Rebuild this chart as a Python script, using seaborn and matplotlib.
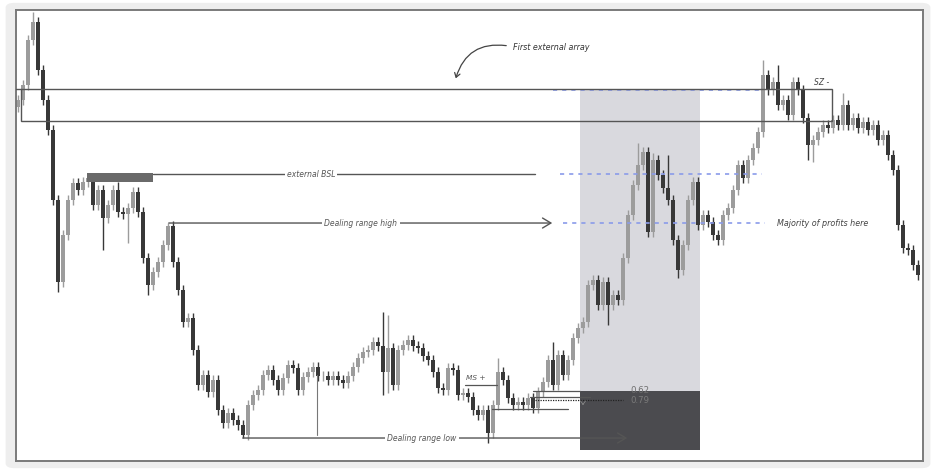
import numpy as np
import pandas as pd
import matplotlib
matplotlib.use("Agg")
import matplotlib.pyplot as plt
import seaborn as sns
from matplotlib.patches import Rectangle, FancyBboxPatch, FancyArrowPatch

# closing prices, one candle per step
closes = [
    371, 386, 431, 449, 401, 371, 341, 271, 189, 236,
    271, 288, 281, 289, 293, 266, 281, 253, 266, 281,
    259, 257, 263, 279, 259, 213, 186, 199, 209, 226,
    245, 209, 181, 149, 153, 121, 86, 96, 79, 91,
    61, 48, 58, 51, 46, 36, 66, 76, 81, 96,
    101, 91, 81, 93, 106, 103, 81, 94, 99, 104,
    95, 95, 91, 95, 91, 88, 95, 104, 113, 119,
    121, 129, 125, 99, 123, 86, 121, 126, 131, 125,
    123, 115, 111, 99, 83, 81, 103, 101, 76, 78,
    74, 61, 56, 61, 38, 66, 99, 91, 73, 66,
    69, 66, 73, 63, 79, 89, 111, 86, 116, 96,
    111, 133, 143, 149, 186, 191, 166, 189, 166, 176,
    171, 213, 256, 286, 306, 319, 239, 311, 296, 283,
    271, 231, 201, 226, 271, 289, 246, 256, 249, 236,
    231, 256, 263, 281, 306, 293, 311, 323, 339, 396,
    381, 389, 366, 371, 356, 389, 381, 353, 326, 331,
    339, 346, 343, 351, 346, 366, 346, 353, 343, 349,
    341, 346, 331, 336, 316, 301, 246, 223, 221, 206,
    196,
]
first_open = 364

# notable wick extremes (candle index -> price)
spike_high = {3: 459, 14: 298, 20: 289, 30: 248, 73: 159, 74: 156,
              96: 113, 107: 129, 124: 328, 127: 318, 130: 316,
              149: 411, 152: 406, 165: 378}
spike_low = {8: 179, 17: 221, 22: 228, 26: 176, 45: 33, 73: 76, 74: 78,
             94: 28, 118: 146, 132: 193, 158: 311, 159: 309}
wick = 5

# annotation levels
array_top, array_bottom = 382, 350
bsl_level = 297
range_high = 248
range_low = 33
zone_top, fib_level, zone_bottom = 382, 80, 21
blue_levels = [381, 297, 248]
fib_labels = ["0.62", "0.79"]

idx = np.arange(len(closes))
opens = [first_open] + closes[:-1]
df = pd.DataFrame({"i": idx, "open": opens, "close": closes})
df["high"] = [spike_high.get(i, max(o, c) + wick) for i, o, c in zip(idx, opens, closes)]
df["low"] = [spike_low.get(i, min(o, c) - wick) for i, o, c in zip(idx, opens, closes)]
df["up"] = df["close"] >= df["open"]

sns.set_theme(style="white")
plt.rcParams["font.family"] = ["DejaVu Sans"]

fig = plt.figure(figsize=(9.36, 4.71), dpi=100)
fig.patch.set_facecolor("white")
frame = FancyBboxPatch((0.006, 0.006), 0.988, 0.988, boxstyle="round,pad=0,rounding_size=0.01",
                       transform=fig.transFigure, facecolor="#eeeeee", edgecolor="none", zorder=-5)
fig.add_artist(frame)
ax = fig.add_axes([0.0171, 0.0212, 0.969, 0.9575])
ax.set_zorder(1)
ax.set_facecolor("white")
ax.set_xlim(-0.4, 181)
ax.set_ylim(10, 461)
ax.set_xticks([])
ax.set_yticks([])
for s in ax.spines.values():
    s.set_color("#7a7a7a")
    s.set_linewidth(1.4)

line_c = "#555555"
text_c = "#555555"

# premium / discount zone
ax.add_patch(Rectangle((112.4, fib_level), 24, zone_top - fib_level, facecolor="#d9d9de", edgecolor="none", zorder=0))
ax.add_patch(Rectangle((112.4, zone_bottom), 24, fib_level - zone_bottom, facecolor="#4b4b4f", edgecolor="none", zorder=3))

# candles
cols = np.where(df["up"], "#9c9c9c", "#383838")
ax.vlines(df["i"], df["low"], df["high"], colors=cols, lw=1.0, zorder=2)
ax.bar(df["i"], df["close"] - df["open"], bottom=df["open"], width=0.75, color=cols, linewidth=0, zorder=2)

# first external array box
ax.add_patch(Rectangle((0.6, array_bottom), 162.2, array_top - array_bottom, fill=False, edgecolor=line_c, lw=1.0, zorder=4))
ax.plot([-0.4, 0.6], [array_top, array_top], color=line_c, lw=1.0, zorder=4)
ax.text(160.8, 389, "SZ -", fontsize=5.5, style="italic", color="#444444", ha="center", va="center")
ax.text(99, 424, "First external array", fontsize=5.8, style="italic", color="#333333", ha="left", va="center")
ax.add_patch(FancyArrowPatch((98.2, 425), (87.4, 390), connectionstyle="arc3,rad=0.45",
                             arrowstyle="->,head_length=3,head_width=2", color="#444444", lw=0.9, zorder=5))

# blue dashed levels
lv = pd.DataFrame({
    "x": [107, 148.4, 108.4, 148.8, 109, 149.4],
    "y": [blue_levels[0], blue_levels[0], blue_levels[1], blue_levels[1], blue_levels[2], blue_levels[2]],
    "lvl": [0, 0, 1, 1, 2, 2],
})
for k, g in lv.groupby("lvl"):
    sns.lineplot(data=g, x="x", y="y", ax=ax, color="#8a9bea", lw=1.2, linestyle=(0, (2.5, 3)), zorder=3)
ax.set_xlabel("")
ax.set_ylabel("")
ax.text(161, range_high, "Majority of profits here", fontsize=5.8, style="italic", color="#444444", ha="center", va="center")

# external BSL
ax.add_patch(Rectangle((13.8, 289), 13.2, 9, facecolor="#6a6a6a", edgecolor="none", zorder=3))
ax.plot([27, 103.4], [bsl_level, bsl_level], color=line_c, lw=1.0, zorder=3)
ax.text(58.6, bsl_level, "external BSL", fontsize=5.5, style="italic", color=text_c, ha="center", va="center",
        bbox=dict(facecolor="white", edgecolor="none", pad=1.5), zorder=4)

# dealing range high
ax.annotate("", xy=(107.4, range_high), xytext=(29.6, range_high),
            arrowprops=dict(arrowstyle="->,head_length=0.5,head_width=0.3", color=line_c, lw=1.0), zorder=3)
ax.text(68.6, range_high, "Dealing range high", fontsize=5.5, style="italic", color=text_c, ha="center", va="center",
        bbox=dict(facecolor="white", edgecolor="none", pad=1.5), zorder=4)

# dealing range low
ax.annotate("", xy=(122.4, range_low), xytext=(44.4, range_low),
            arrowprops=dict(arrowstyle="->,head_length=0.5,head_width=0.3", color=line_c, lw=1.0), zorder=4)
ax.text(80.8, range_low, "Dealing range low", fontsize=5.5, style="italic", color=text_c, ha="center", va="center",
        bbox=dict(facecolor="white", edgecolor="none", pad=1.5), zorder=4)
ax.plot([59.8, 59.8], [range_low + 3, 96], color="#777777", lw=0.8, zorder=2)

# market structure shift and fib lines
ax.text(91.6, 93, "MS +", fontsize=5.3, style="italic", color=text_c, ha="center", va="center")
ax.plot([89.4, 95.8], [86, 86], color=line_c, lw=0.9, zorder=3)
ax.plot([94.8, 110], [62, 62], color=line_c, lw=0.9, zorder=3)
ax.plot([103, 112.4], [80, 80], color=line_c, lw=0.9, zorder=3)
ax.plot([102.4, 114.4], [74, 74], color=line_c, lw=0.9, zorder=4)
ax.plot([103.4, 121], [71, 71], color="#222222", lw=0.9, linestyle=(0, (1, 1)), zorder=4)
ax.annotate("", xy=(113, 66), xytext=(113, 70),
            arrowprops=dict(arrowstyle="->,head_length=0.2,head_width=0.15", color="#888888", lw=0.6), zorder=5)
ax.text(122.4, 81, fib_labels[0], fontsize=6.2, color="#6e6e6e", ha="left", va="center", zorder=5)
ax.text(122.4, 71, fib_labels[1], fontsize=6.2, color="#7a7a7a", ha="left", va="center", zorder=5)

fig.savefig("out.png", dpi=100, facecolor=fig.get_facecolor())
